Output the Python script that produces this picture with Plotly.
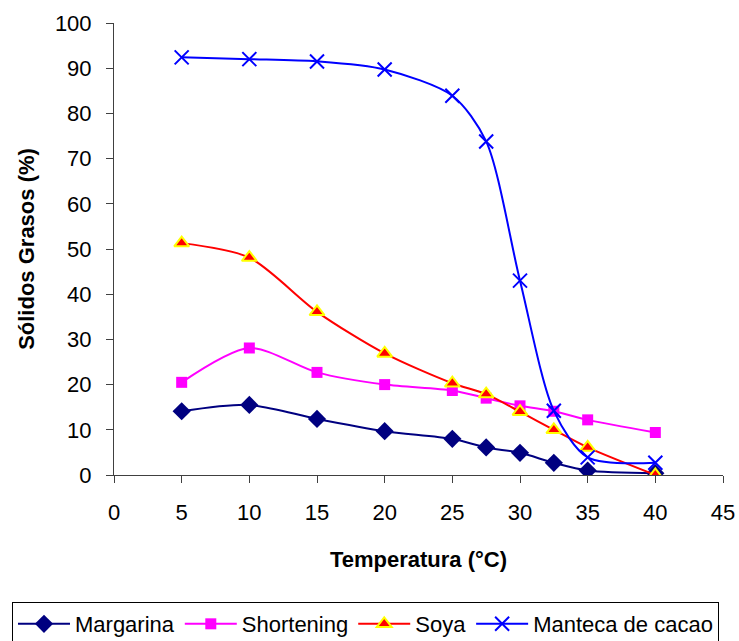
import plotly.graph_objects as go

temps = [5, 10, 15, 20, 25, 27.5, 30, 32.5, 35, 40]
margarina = [14.1, 15.5, 12.4, 9.7, 8.0, 6.1, 4.9, 2.7, 1.0, 0.4]
shortening = [20.5, 28.1, 22.7, 20.0, 18.7, 17.0, 15.3, 14.1, 12.2, 9.4]
soya = [51.3, 48.1, 36.1, 26.9, 20.3, 17.9, 14.0, 10.0, 6.1, 0.0]
manteca = [92.4, 92.0, 91.5, 89.7, 83.9, 73.8, 43.0, 14.2, 3.9, 2.7]

x_ticks = [0, 5, 10, 15, 20, 25, 30, 35, 40, 45]
y_ticks = [0, 10, 20, 30, 40, 50, 60, 70, 80, 90, 100]

FONT = "Liberation Sans, Arial, sans-serif"

fig = go.Figure()
fig.add_trace(go.Scatter(
    x=temps, y=margarina, name="Margarina", mode="lines+markers",
    line=dict(color="#000080", width=2, shape="spline", smoothing=0.8),
    marker=dict(symbol="diamond", size=14, color="#000080"),
))
fig.add_trace(go.Scatter(
    x=temps, y=shortening, name="Shortening", mode="lines+markers",
    line=dict(color="#FF00FF", width=2, shape="spline", smoothing=0.8),
    marker=dict(symbol="square", size=11, color="#FF00FF"),
))
fig.add_trace(go.Scatter(
    x=temps, y=soya, name="Soya", mode="lines+markers",
    line=dict(color="#FF0000", width=2, shape="spline", smoothing=0.8),
    marker=dict(symbol="triangle-up", size=13, color="#FF0000",
                line=dict(color="#FFFF00", width=2)),
))
fig.add_trace(go.Scatter(
    x=temps, y=manteca, name="Manteca de cacao", mode="lines+markers",
    line=dict(color="#0000FF", width=2, shape="spline", smoothing=0.8),
    marker=dict(symbol="x-thin", size=14, color="#0000FF",
                line=dict(color="#0000FF", width=2)),
))

fig.update_layout(
    width=739, height=641,
    margin=dict(l=114, r=16, t=23, b=166, autoexpand=False),
    paper_bgcolor="white", plot_bgcolor="white",
    font=dict(family=FONT, size=22, color="black"),
    showlegend=True,
    legend=dict(
        orientation="h", xref="paper", yref="paper",
        x=-0.1675, y=-0.281, xanchor="left", yanchor="top",
        bordercolor="black", borderwidth=1, font=dict(size=22),
        itemwidth=52, tracegroupgap=0,
    ),
)
fig.update_xaxes(
    range=[0, 45], tickvals=x_ticks, ticktext=[str(v) for v in x_ticks],
    showgrid=False, zeroline=False, showline=True, linecolor="#404040", linewidth=1,
    ticks="outside", ticklen=7, tickcolor="#404040", automargin=False,
    tickfont=dict(size=22), ticklabelstandoff=11,
    title=dict(text="<b>Temperatura (°C)</b>", font=dict(size=22), standoff=27),
)
fig.update_yaxes(
    range=[0, 100], tickvals=y_ticks, ticktext=[str(v) for v in y_ticks],
    showgrid=False, zeroline=False, showline=True, linecolor="#404040", linewidth=1,
    ticks="outside", ticklen=7, tickcolor="#404040", automargin=False,
    tickfont=dict(size=22), ticklabelstandoff=10,
    title=dict(text="<b>Sólidos Grasos (%)</b>", font=dict(size=22), standoff=14),
)

fig.write_html("out.html")
